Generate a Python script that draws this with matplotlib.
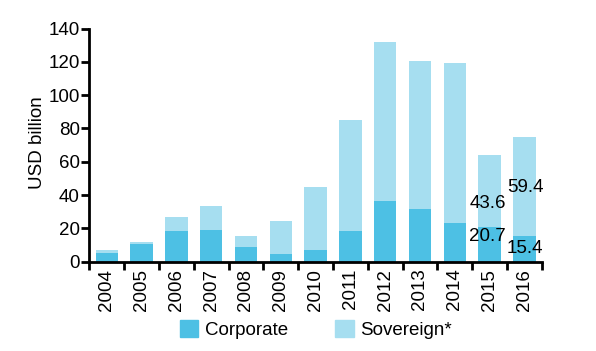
import matplotlib
matplotlib.use("Agg")
import matplotlib.pyplot as plt
import numpy as np
from matplotlib.patches import Patch

years = ['2004', '2005', '2006', '2007', '2008', '2009', '2010',
         '2011', '2012', '2013', '2014', '2015', '2016']
corporate = [5.4, 10.6, 18.6, 19.2, 8.8, 4.6, 7.0, 18.4, 36.5, 31.5, 23.4, 20.7, 15.4]
sovereign = [1.6, 1.2, 8.1, 14.1, 6.5, 20.0, 38.1, 66.8, 95.1, 88.7, 95.8, 43.6, 59.4]

# labelled values (2015, 2016)
label_years = ['2015', '2016']
label_corp = [20.7, 15.4]
label_sov = [43.6, 59.4]

c_corp = '#4dc0e4'
c_sov = '#a6def0'

plt.rcParams['font.family'] = ['Liberation Sans', 'DejaVu Sans']

fig = plt.figure(figsize=(5.96, 3.51), dpi=100)
ax = fig.add_axes([0.150, 0.2544, 0.759, 0.6644])

x = np.arange(len(years))
ax.bar(x, corporate, width=0.64, color=c_corp, zorder=2)
ax.bar(x, sovereign, width=0.64, bottom=corporate, color=c_sov, zorder=2)

# value labels for the last two years
for yr, vc, vs, dy_c, dy_s in zip(label_years, label_corp, label_sov, [15.0, 8.2], [34.8, 44.8]):
    i = years.index(yr)
    off = -0.06 if yr == '2015' else 0.02
    ax.text(i + off, dy_c, f'{vc}', ha='center', va='center', fontsize=13.5, zorder=3)
    ax.text(i + off, dy_s, f'{vs}', ha='center', va='center', fontsize=13.5, zorder=3)

ax.set_xlim(-0.5, len(years) - 0.5)
ax.set_ylim(0, 140)
ax.set_yticks(range(0, 141, 20))
ax.set_xticks(x)
ax.set_xticklabels(years, rotation=90)
ax.set_xticks(np.arange(-0.5, len(years)), minor=True)
ax.tick_params(axis='x', which='major', length=0, pad=5, labelsize=13.5)
ax.tick_params(axis='x', which='minor', length=6, width=2, direction='out')
ax.tick_params(axis='y', length=6, width=2, direction='out', labelsize=13.5, pad=1)

for s in ['top', 'right']:
    ax.spines[s].set_visible(False)
for s in ['left', 'bottom']:
    ax.spines[s].set_linewidth(2)

ax.set_ylabel('USD billion', fontsize=13.5)
ax.yaxis.set_label_coords(-0.095, 0.51)

handles = [Patch(color=c_corp, label='Corporate'), Patch(color=c_sov, label='Sovereign*')]
fig.legend(handles=handles, loc='center', bbox_to_anchor=(0.53, 0.062), ncol=2,
           frameon=False, fontsize=13.5, handlelength=1.0, handleheight=1.0,
           handletextpad=0.35, columnspacing=2.5)

fig.savefig('out.png', dpi=100)
